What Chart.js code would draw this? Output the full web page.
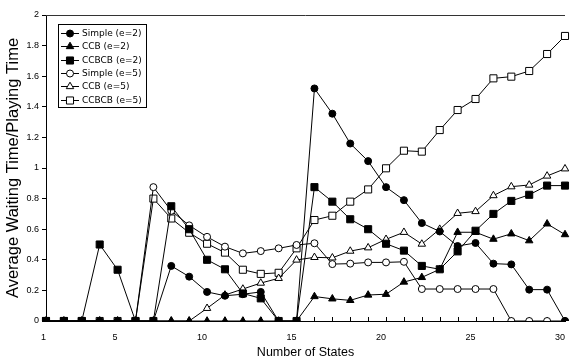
<!DOCTYPE html>
<html>
<head>
<meta charset="utf-8">
<script src="https://cdn.jsdelivr.net/npm/chart.js"></script>
<style>
  body { margin: 0; background: #fff; }
  #wrap { width: 571px; height: 361px; }
</style>
</head>
<body>
<div id="wrap"><canvas id="chart" width="571" height="361"></canvas></div>
<script>
// number of states on the x axis
const states = ['1','2','3','4','5','6','7','8','9','10','11','12','13','14','15',
                '16','17','18','19','20','21','22','23','24','25','26','27','28','29','30'];
const xTickLabels = ['1', '5', '10', '15', '20', '25', '30'];
const yTicks = [0, 0.2, 0.4, 0.6, 0.8, 1, 1.2, 1.4, 1.6, 1.8, 2];
const yTickLabels = ['0', '0.2', '0.4', '0.6', '0.8', '1', '1.2', '1.4', '1.6', '1.8', '2'];

// values
const simpleE2 = [0, 0, 0, 0, 0, 0, 0, 0.36, 0.29, 0.19, 0.165, 0.175, 0.19, 0, 0,
                  1.52, 1.355, 1.16, 1.045, 0.875, 0.79, 0.64, 0.585, 0.49, 0.51, 0.375, 0.37, 0.205, 0.205, 0];
const ccbE2 = [0, 0, 0, 0, 0, 0, 0, 0, 0, 0, 0, 0, 0, 0, 0,
               0.16, 0.145, 0.135, 0.17, 0.175, 0.255, 0.285, 0.338, 0.58, 0.58, 0.535, 0.57, 0.525, 0.635, 0.565];
const ccbcbE2 = [0, 0, 0, 0.5, 0.335, 0, 0, 0.75, 0.6, 0.4, 0.338, 0.18, 0.148, 0, 0,
                 0.875, 0.78, 0.665, 0.6, 0.505, 0.46, 0.36, 0.338, 0.455, 0.59, 0.7, 0.785, 0.825, 0.885, 0.885];
const simpleE5 = [0, 0, 0, 0, 0, 0, 0.875, 0.72, 0.625, 0.55, 0.486, 0.442, 0.457, 0.475, 0.497,
                  0.508, 0.372, 0.375, 0.383, 0.383, 0.387, 0.209, 0.209, 0.209, 0.209, 0.209, 0, 0, 0, 0];
const ccbE5 = [0, 0, 0, 0, 0, 0, 0, 0, 0, 0.083, 0.17, 0.209, 0.248, 0.279, 0.399,
               0.416, 0.413, 0.457, 0.479, 0.534, 0.58, 0.503, 0.6, 0.704, 0.716, 0.82, 0.878, 0.889, 0.948, 0.995];
const ccbcbE5 = [0, 0, 0, 0, 0, 0, 0.8, 0.67, 0.577, 0.505, 0.447, 0.335, 0.308, 0.315, 0.475,
                 0.66, 0.688, 0.78, 0.86, 0.998, 1.113, 1.107, 1.248, 1.379, 1.451, 1.586, 1.597, 1.634, 1.745, 1.863];

const FONT = '"Liberation Sans", Arial, sans-serif';
const LEGEND_FONT = '"DejaVu Sans", sans-serif';

function series(label, data, style, filled, radius) {
    return {
        label: label,
        data: data,
        borderColor: '#000',
        borderWidth: 1,
        pointStyle: style,
        pointRadius: radius,
        pointBorderWidth: 1,
        pointBorderColor: '#000',
        pointBackgroundColor: filled ? '#000' : '#fff',
        tension: 0,
        fill: false
    };
}

// legend box drawn inside the plot area
const boxLegend = {
    id: 'boxLegend',
    afterDraw(chart) {
        const ctx = chart.ctx;
        const x0 = 58.5, y0 = 24.5, w = 88, h = 83;
        ctx.save();
        ctx.fillStyle = '#fff';
        ctx.fillRect(x0, y0, w, h);
        ctx.strokeStyle = '#000';
        ctx.lineWidth = 1;
        ctx.strokeRect(x0, y0, w, h);
        ctx.font = '9px ' + LEGEND_FONT;
        ctx.textBaseline = 'middle';
        chart.data.datasets.forEach(function (ds, i) {
            const y = Math.round(33 + i * 13.3) + 0.5;
            ctx.strokeStyle = '#000';
            ctx.beginPath();
            ctx.moveTo(61, y);
            ctx.lineTo(79, y);
            ctx.stroke();
            ctx.fillStyle = ds.pointBackgroundColor;
            Chart.helpers.drawPoint(ctx, {
                pointStyle: ds.pointStyle,
                radius: ds.pointRadius,
                borderWidth: 1,
                rotation: 0
            }, 70, y);
            ctx.fillStyle = '#000';
            ctx.fillText(ds.label, 82, y);
        });
        ctx.restore();
    }
};

// plot frame top line and inward tick marks on the x axis
const frame = {
    id: 'frame',
    beforeDatasetsDraw(chart) {
        const ctx = chart.ctx;
        const a = chart.chartArea;
        const xs = chart.scales.x;
        ctx.save();
        ctx.strokeStyle = '#333';
        ctx.lineWidth = 1;
        ctx.beginPath();
        ctx.moveTo(a.left, a.top + 0.5);
        ctx.lineTo(a.right, a.top + 0.5);
        ctx.stroke();
        ctx.strokeStyle = '#000';
        ctx.beginPath();
        states.forEach(function (s, i) {
            const px = Math.round(xs.getPixelForValue(i)) + 0.5;
            ctx.moveTo(px, a.bottom);
            ctx.lineTo(px, a.bottom - 4);
        });
        ctx.stroke();
        ctx.restore();
    }
};

new Chart(document.getElementById('chart'), {
    type: 'line',
    data: {
        labels: states,
        datasets: [
            series('Simple (e=2)', simpleE2, 'circle', true, 3.5),
            series('CCB (e=2)', ccbE2, 'triangle', true, 4.3),
            series('CCBCB (e=2)', ccbcbE2, 'rect', true, 5),
            series('Simple (e=5)', simpleE5, 'circle', false, 3.5),
            series('CCB (e=5)', ccbE5, 'triangle', false, 4.3),
            series('CCBCB (e=5)', ccbcbE5, 'rect', false, 5)
        ]
    },
    options: {
        responsive: false,
        animation: false,
        devicePixelRatio: 1,
        layout: { padding: { top: 15, right: 0, left: 0, bottom: 0 } },
        plugins: {
            legend: { display: false },
            tooltip: { enabled: false }
        },
        scales: {
            x: {
                type: 'category',
                offset: false,
                grid: { display: false },
                border: { display: true, color: '#000', width: 1 },
                ticks: {
                    autoSkip: false,
                    maxRotation: 0,
                    align: 'end',
                    padding: 3,
                    color: '#000',
                    font: { family: FONT, size: 9 },
                    callback: function (value) {
                        const lab = this.getLabelForValue(value);
                        return xTickLabels.includes(lab) ? lab : '';
                    }
                },
                title: {
                    display: true,
                    text: 'Number of States',
                    color: '#000',
                    font: { family: FONT, size: 12.5 },
                    padding: { top: 0, bottom: 1 }
                },
                afterFit: function (scale) { scale.height = 40; }
            },
            y: {
                min: 0,
                max: 2,
                afterBuildTicks: function (scale) {
                    scale.ticks = yTicks.map(v => ({ value: v }));
                },
                grid: { drawOnChartArea: false, drawTicks: true, tickLength: 4, color: '#000' },
                border: { display: true, color: '#000', width: 1 },
                ticks: {
                    padding: 3,
                    color: '#000',
                    font: { family: FONT, size: 9 },
                    callback: function (value, index) { return yTickLabels[index]; }
                },
                title: {
                    display: true,
                    text: 'Average Waiting Time/Playing Time',
                    color: '#000',
                    font: { family: FONT, size: 16.5 },
                    padding: { top: 4, bottom: 0 }
                },
                afterFit: function (scale) { scale.width = 46; }
            }
        }
    },
    plugins: [frame, boxLegend]
});
</script>
</body>
</html>
